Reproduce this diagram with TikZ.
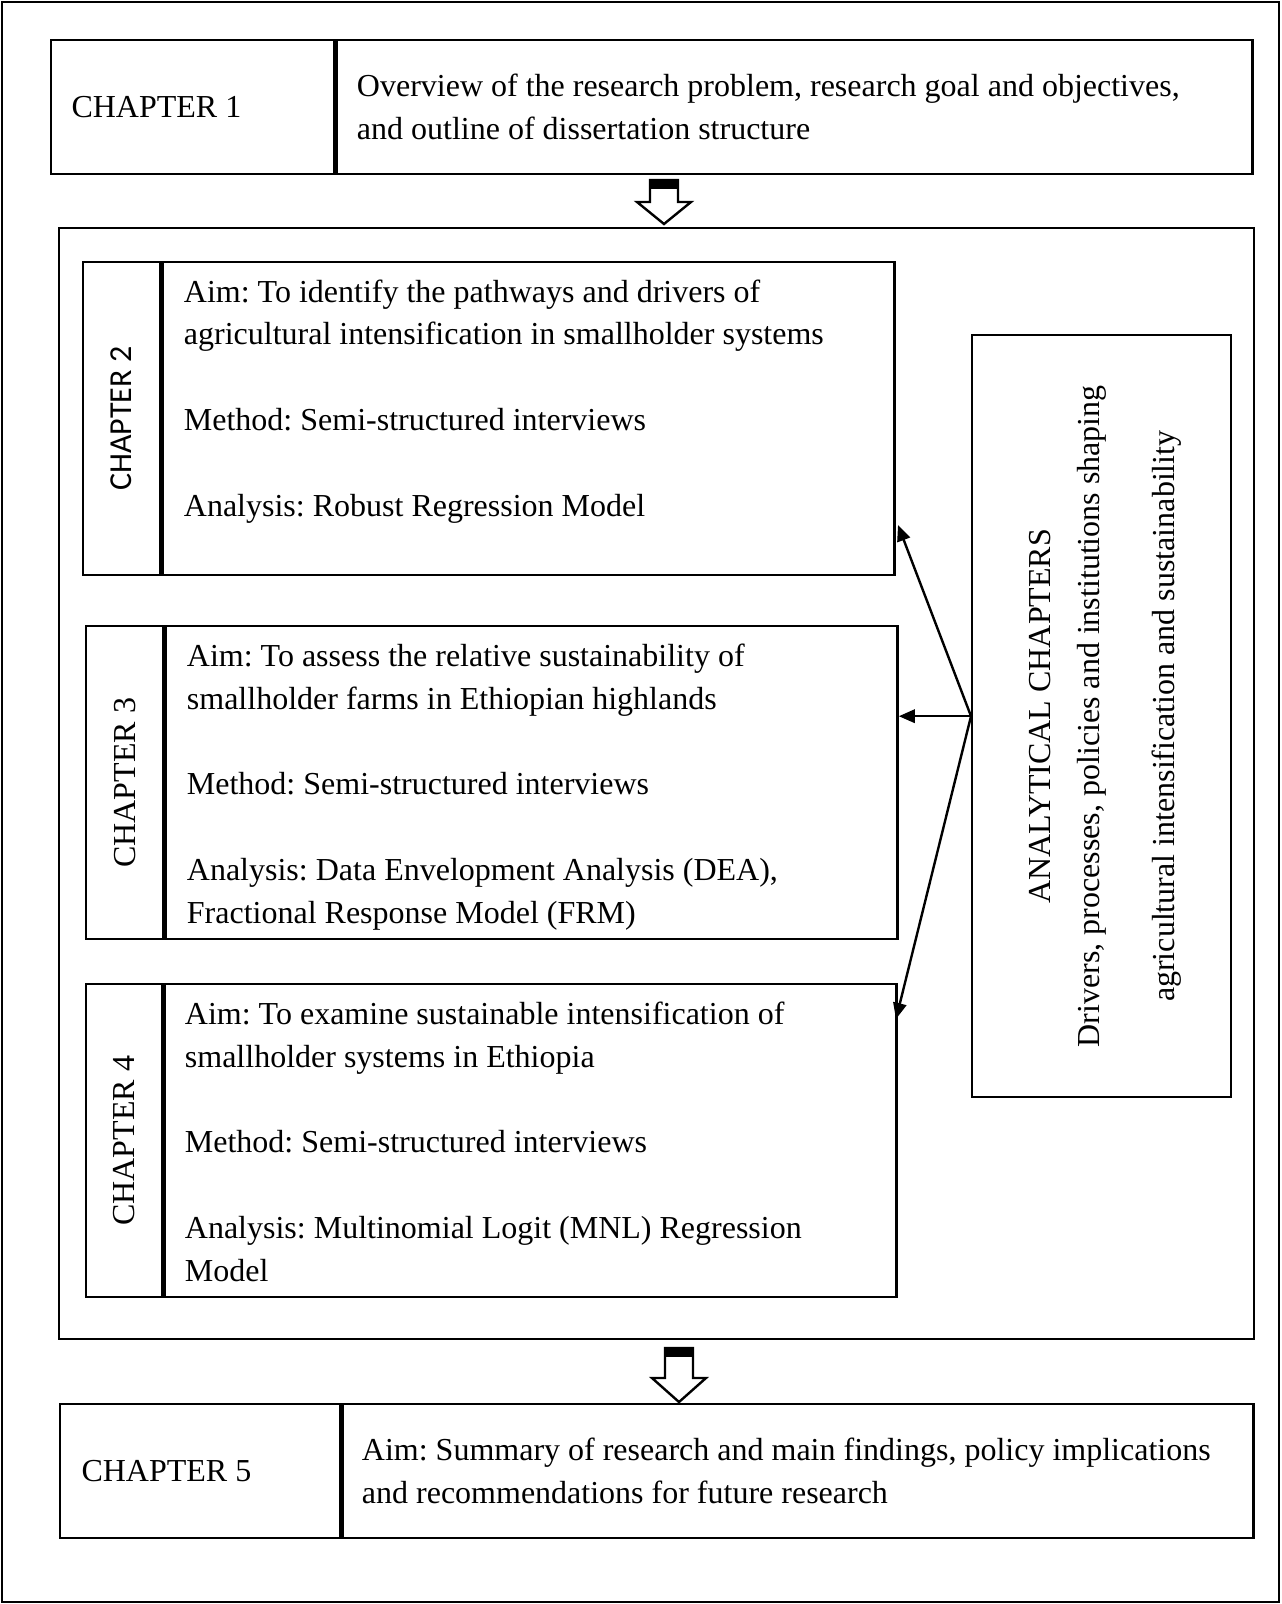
\documentclass[tikz,border=0pt]{standalone}
\usepackage{fontspec}
\setmainfont{Liberation Serif}
\newfontfamily\carlito{Carlito}
\usetikzlibrary{positioning}
\usetikzlibrary{arrows.meta}
\frenchspacing
\newlength{\pu}
\setlength{\pu}{0.375pt}
\tikzstyle{cell} = [draw, line width=0.9pt, inner sep=0pt, anchor=north west]
\tikzstyle{txt} = [inner sep=0pt, anchor=north west, align=left, font=\fontsize{12}{16.1}\selectfont]
\tikzstyle{side} = [inner sep=0pt, rotate=90, align=center, font=\fontsize{12}{16.1}\selectfont]
\tikzstyle{link} = [-{Triangle[length=6pt, width=5pt]}, line width=0.9pt]

\begin{document}
\begin{tikzpicture}[x=\pu, y=-\pu]
    \useasboundingbox (0,0) rectangle (1281,1604);
    \draw[line width=0.75pt] (2,2) rectangle (1279,1602);

    % chapter 1
    \node[cell, minimum width=283\pu, minimum height=134\pu] (c1l) at (50,39) {};
    \node[cell, minimum width=916\pu, minimum height=134\pu] (c1b) at (c1l.north east) {};
    \node[txt, anchor=west] (c1n) at ([xshift=21\pu]c1l.west) {CHAPTER 1};
    \node[txt, anchor=west] (c1t) at ([xshift=21\pu]c1b.west)
        {Overview of the research problem, research goal and objectives,\\and outline of dissertation structure};

    % analytical chapters
    \node[cell, minimum width=1195\pu, minimum height=1111\pu] (mid) at (58,227) {};

    \node[cell, minimum width=77\pu, minimum height=313\pu] (c2l) at (82,261) {};
    \node[cell, minimum width=732\pu, minimum height=313\pu] (c2b) at (c2l.north east) {};
    \node[side, font=\carlito\fontsize{12}{16.1}\selectfont] (c2n) at (c2l.center) {CHAPTER 2};
    \node[txt] (c2t) at ([xshift=22\pu, yshift=-18\pu]c2b.north west)
        {Aim: To identify the pathways and drivers of\\agricultural intensification in smallholder systems\\[16.1pt]Method: Semi-structured interviews\\[16.1pt]Analysis: Robust Regression Model};

    \node[cell, minimum width=77\pu, minimum height=313\pu] (c3l) at (85,625) {};
    \node[cell, minimum width=732\pu, minimum height=313\pu] (c3b) at (c3l.north east) {};
    \node[side] (c3n) at (c3l.center) {CHAPTER 3};
    \node[txt] (c3t) at ([xshift=22\pu, yshift=-18\pu]c3b.north west)
        {Aim: To assess the relative sustainability of\\smallholder farms in Ethiopian highlands\\[16.1pt]Method: Semi-structured interviews\\[16.1pt]Analysis: Data Envelopment Analysis (DEA),\\Fractional Response Model (FRM)};

    \node[cell, minimum width=76\pu, minimum height=313\pu] (c4l) at (85,983) {};
    \node[cell, minimum width=732\pu, minimum height=313\pu] (c4b) at (c4l.north east) {};
    \node[side] (c4n) at (c4l.center) {CHAPTER 4};
    \node[txt] (c4t) at ([xshift=21\pu, yshift=-18\pu]c4b.north west)
        {Aim: To examine sustainable intensification of\\smallholder systems in Ethiopia\\[16.1pt]Method: Semi-structured interviews\\[16.1pt]Analysis: Multinomial Logit (MNL) Regression\\Model};

    \node[cell, minimum width=259\pu, minimum height=762\pu] (an) at (971,334) {};
    \node[side] (ant) at ([xshift=4\pu]an.center)
        {ANALYTICAL CHAPTERS\\[2.3pt]Drivers, processes, policies and institutions shaping\\[12pt]agricultural intensification and sustainability};

    \coordinate (p2) at (898,525);
    \coordinate (p4) at (896,1019);
    \draw[link] (an.west) -- (p2);
    \draw[link] (an.west) -- (an.west -| c3b.east);
    \draw[link] (an.west) -- (p4);

    % chapter 5
    \node[cell, minimum width=280\pu, minimum height=134\pu] (c5l) at (59,1403) {};
    \node[cell, minimum width=911\pu, minimum height=134\pu] (c5b) at (c5l.north east) {};
    \node[txt, anchor=west] (c5n) at ([xshift=22\pu]c5l.west) {CHAPTER 5};
    \node[txt, anchor=west] (c5t) at ([xshift=20\pu]c5b.west)
        {Aim: Summary of research and main findings, policy implications\\and recommendations for future research};

    % hollow arrows
    \foreach \cx/\ty/\hb/\tp in {664/180/202/224, 679/1348/1378/1402} {
        \draw[line width=0.9pt, fill=white] (\cx-14,\ty) -- (\cx-14,\hb) -- (\cx-27,\hb) -- (\cx,\tp)
            -- (\cx+27,\hb) -- (\cx+14,\hb) -- (\cx+14,\ty) -- cycle;
        \fill (\cx-14,\ty) rectangle (\cx+14,\ty+9);
    }
\end{tikzpicture}
\end{document}
